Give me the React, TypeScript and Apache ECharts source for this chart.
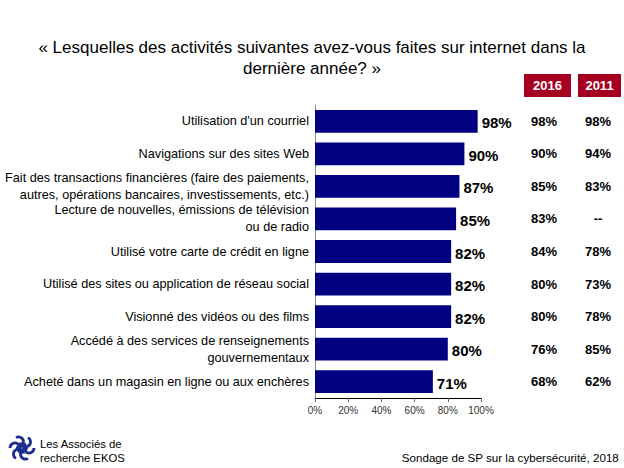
import React, { useEffect, useRef } from "react";
import * as echarts from "echarts";

const categories = [
  "Utilisation d'un courriel",
  "Navigations sur des sites Web",
  "Fait des transactions financières (faire des paiements,\nautres, opérations bancaires, investissements, etc.)",
  "Lecture de nouvelles, émissions de télévision\nou de radio",
  "Utilisé votre carte de crédit en ligne",
  "Utilisé des sites ou application de réseau social",
  "Visionné des vidéos ou des films",
  "Accédé à des services de renseignements\ngouvernementaux",
  "Acheté dans un magasin en ligne ou aux enchères",
];
const values2018 = [98, 90, 87, 85, 82, 82, 82, 80, 71];
const values2016 = ["98%", "90%", "85%", "83%", "84%", "80%", "80%", "76%", "68%"];
const values2011 = ["98%", "94%", "83%", "--", "78%", "73%", "78%", "85%", "62%"];
const xTicks = [0, 20, 40, 60, 80, 100];
const columnHeaders = ["2016", "2011"];

const titleText =
  "« Lesquelles des activités suivantes avez-vous faites sur internet dans la\ndernière année? »";
const sourceText = "Sondage de SP sur la cybersécurité, 2018";

const FONT = "'Liberation Sans', Arial, sans-serif";

export default function App() {
  const ref = useRef<HTMLDivElement>(null);
  useEffect(() => {
    if (!ref.current) return;
    const chart = echarts.init(ref.current, null, { renderer: "svg" });
    const logoBlue = "#1c2d8f";
    const logoParts: any[] = [];
    for (let i = 0; i < 6; i++) {
      const a = (i * Math.PI) / 3;
      logoParts.push({
        type: "arc",
        shape: {
          cx: 22 + 7 * Math.cos(a),
          cy: 448 + 7 * Math.sin(a),
          r: 5,
          startAngle: a,
          endAngle: a + Math.PI * 1.3,
        },
        style: { stroke: logoBlue, lineWidth: 2.8, fill: "none" },
      });
    }
    chart.setOption({
      animation: false,
      backgroundColor: "#ffffff",
      title: {
        text: titleText,
        left: "center",
        top: 32,
        textStyle: {
          fontFamily: FONT,
          fontSize: 17,
          fontWeight: "normal",
          color: "#000",
          lineHeight: 21,
        },
      },
      grid: {
        left: 315,
        right: 143,
        top: 105,
        bottom: 70,
        containLabel: false,
        outerBoundsMode: "none",
      },
      xAxis: {
        type: "value",
        min: 0,
        max: 100,
        interval: 20,
        axisLine: { show: true, lineStyle: { color: "#000", width: 1 } },
        axisTick: { show: true, length: 4, lineStyle: { color: "#666" } },
        splitLine: { show: false },
        axisLabel: {
          formatter: (v: number) => (xTicks.includes(v) ? v + "%" : ""),
          fontFamily: FONT,
          fontSize: 10,
          color: "#333",
          margin: 7,
        },
      },
      yAxis: [
        {
          type: "category",
          data: categories,
          inverse: true,
          axisLine: { show: true, lineStyle: { color: "#888" } },
          axisTick: { show: false },
          axisLabel: {
            fontFamily: FONT,
            fontSize: 12.7,
            color: "#000",
            lineHeight: 17,
            margin: 6,
            align: "right",
          },
        },
        {
          type: "category",
          data: categories,
          inverse: true,
          position: "right",
          axisLine: { show: false },
          axisTick: { show: false },
          axisLabel: {
            formatter: (_v: string, i: number) => values2016[i],
            fontFamily: FONT,
            fontWeight: "bold",
            fontSize: 13,
            color: "#000",
            align: "center",
            margin: 63,
          },
        },
        {
          type: "category",
          data: categories,
          inverse: true,
          position: "right",
          axisLine: { show: false },
          axisTick: { show: false },
          axisLabel: {
            formatter: (_v: string, i: number) => values2011[i],
            fontFamily: FONT,
            fontWeight: "bold",
            fontSize: 13,
            color: "#000",
            align: "center",
            margin: 117,
          },
        },
      ],
      series: [
        {
          type: "bar",
          data: values2018,
          yAxisIndex: 0,
          barCategoryGap: "30%",
          itemStyle: { color: "#000080" },
          label: {
            show: true,
            position: "right",
            distance: 4,
            formatter: "{c}%",
            fontFamily: FONT,
            fontWeight: "bold",
            fontSize: 15,
            color: "#000",
            offset: [0, 1.5],
          },
        },
      ],
      graphic: [
        {
          type: "rect",
          shape: { x: 524, y: 74, width: 47, height: 23 },
          style: { fill: "#a50021" },
        },
        {
          type: "text",
          x: 547.5,
          y: 85.5,
          style: {
            text: columnHeaders[0],
            fill: "#fff",
            fontFamily: FONT,
            fontWeight: "bold",
            fontSize: 13,
            align: "center",
            verticalAlign: "middle",
          },
        },
        {
          type: "rect",
          shape: { x: 578, y: 74, width: 43, height: 23 },
          style: { fill: "#a50021" },
        },
        {
          type: "text",
          x: 599.5,
          y: 85.5,
          style: {
            text: columnHeaders[1],
            fill: "#fff",
            fontFamily: FONT,
            fontWeight: "bold",
            fontSize: 13,
            align: "center",
            verticalAlign: "middle",
          },
        },
        { type: "group", children: logoParts },
        {
          type: "text",
          x: 40,
          y: 437,
          style: {
            text: "Les Associés de\nrecherche EKOS",
            fill: "#000",
            fontFamily: FONT,
            fontSize: 11.3,
            lineHeight: 14,
          },
        },
        {
          type: "text",
          right: 5,
          top: 451,
          style: {
            text: sourceText,
            fill: "#000",
            fontFamily: FONT,
            fontSize: 11.6,
          },
        },
      ],
    });
    return () => chart.dispose();
  }, []);
  return <div ref={ref} style={{ width: 624, height: 468, position: "absolute", left: 0, top: 0 }} />;
}
